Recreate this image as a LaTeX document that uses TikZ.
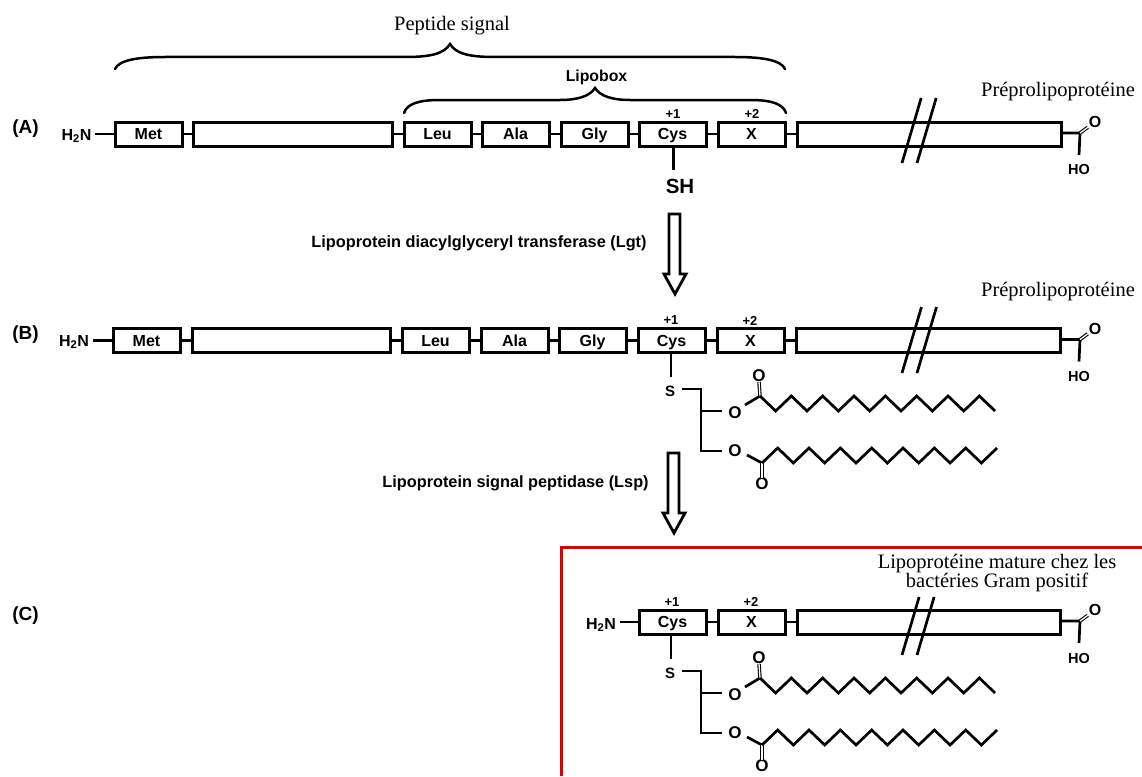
\documentclass[tikz,border=0pt]{standalone}
\usepackage{fontspec}
\setmainfont{Liberation Serif}
\setsansfont{Liberation Sans}
\newcommand{\sz}[1]{\fontsize{#1}{#1}\selectfont}
\newcommand{\pbox}[5]{\node[pbox,minimum width={(#3-#2)*1pt}] (#1) at ({(#2+#3)/2},#4) {#5};}
% carboxyl terminus and hash marks: #1 prefix, #2 last box, #3 y centre, #4 hash top y, #5 hash bottom y
\newcommand{\cterm}[5]{%
  \coordinate (#1j) at (1080,#3-1);
  \node[sans,outer sep=1pt,font=\sffamily\bfseries\sz{16}] (#1o) at (1095,#3-12) {O};
  \node[sans,font=\sffamily\bfseries\sz{14.5}] (#1ho) at (1079,#3+36) {HO};
  \coordinate (#1k) at (1079,#3+21);
  \draw[bond] (#2.east |- #1j) -- (#1j) -- (#1k);
  \draw[dbond] (#1j) -- (#1o);
  \coordinate (#1h1a) at (902,#5);
  \coordinate (#1h1b) at ({902+(#5-#4)*0.295},#4);
  \coordinate (#1h2a) at (917,#5);
  \coordinate (#1h2b) at ({917+(#5-#4)*0.295},#4);
  \draw[bond] (#1h1a) -- (#1h1b);
  \draw[bond] (#1h2a) -- (#1h2b);
}
% diacylglyceryl chains: #1 prefix, #2 Cys node, #3 dy relative to row B
\newcommand{\lipid}[3]{%
  \node[sans,font=\sffamily\bfseries\sz{15}] (#1s) at (670,391+#3) {S};
  \node[sans,font=\sffamily\bfseries\sz{17}] (#1ou) at (735,413+#3) {O};
  \node[sans,font=\sffamily\bfseries\sz{17}] (#1ol) at (735,451+#3) {O};
  \node[sans,font=\sffamily\bfseries\sz{17}] (#1cu) at (759,376+#3) {O};
  \node[sans,font=\sffamily\bfseries\sz{17}] (#1cl) at (762,484+#3) {O};
  \coordinate (#1st) at (671,377+#3);
  \coordinate (#1sr) at (682,389+#3);
  \coordinate (#1a) at (701,389+#3);
  \coordinate (#1b) at (701,411+#3);
  \coordinate (#1c) at (701,451+#3);
  \coordinate (#1be) at (722,411+#3);
  \coordinate (#1ce) at (722,451+#3);
  \coordinate (#1u0) at (745,405+#3);
  \coordinate (#1l0) at (747,455+#3);
  \coordinate (#1u) at (760,396+#3);
  \coordinate (#1l) at (762,463+#3);
  \draw[bond] (#2.south -| #1st) -- (#1st);
  \draw[bond] (#1sr) -- (#1a) -- (#1c) -- (#1ce);
  \draw[bond] (#1b) -- (#1be);
  \draw[bond] (#1u0) -- (#1u);
  \draw[dbond] (#1u) -- (#1cu.south);
  \draw[bond,line join=miter] (#1u) \foreach \i in {1,...,15} { -- ++(15.67,{mod(\i,2)==1 ? 15 : -15}) };
  \draw[bond] (#1l0) -- (#1l);
  \draw[dbond] (#1l) -- (#1cl.north);
  \draw[bond,line join=miter] (#1l) \foreach \i in {1,...,15} { -- ++(15.67,{mod(\i,2)==1 ? -15 : 15}) };
}
\tikzset{
  pbox/.style={draw=black,fill=white,line width=3pt,minimum height=24pt,inner sep=0pt,outer sep=0pt,
    text height=11.5pt,text depth=0pt,font=\sffamily\bfseries\sz{16}},
  bond/.style={draw=black,line width=2.7pt},
  dbond/.style={draw=black,double=white,double distance=1.3pt,line width=1.1pt},
  sans/.style={inner sep=0pt,outer sep=0pt,text=black},
  seriflab/.style={inner sep=0pt,outer sep=0pt,text=black,font=\rmfamily\sz{20.5}},
  boldlab/.style={sans,font=\sffamily\bfseries\sz{16.3}},
  smalllab/.style={sans,font=\sffamily\bfseries\sz{13}},
  nterm/.style={sans,outer sep=4pt,font=\sffamily\bfseries\sz{16}},
  rowlab/.style={sans,font=\sffamily\bfseries\sz{19}},
  brace/.style={draw=black,line width=2.5pt,line cap=round},
  bigarrow/.style={draw=black,fill=white,line width=2.8pt,line join=miter},
}
\begin{document}
\begin{tikzpicture}[x=1pt,y=-1pt]
\useasboundingbox (0,0) rectangle (1142,776);
% titles
\node[seriflab] (tpep) at (452,26) {Peptide signal};
\node[seriflab] (tpre1) at (1058,92) {Préprolipoprotéine};
\node[seriflab] (tpre2) at (1058,292) {Préprolipoprotéine};
\node[sans,font=\sffamily\bfseries\sz{15.8}] (tlipo) at (596.5,77) {Lipobox};
\node[rowlab] (la) at (25.5,129) {(A)};
\node[rowlab] (lb) at (25.5,335) {(B)};
\node[rowlab] (lc) at (25.5,616) {(C)};
% braces
\coordinate (b1l) at (115,69); \coordinate (b1t) at (450,44); \coordinate (b1r) at (785,69);
\draw[brace] (b1l) .. controls (119,60) and (138,57) .. (165,57) -- (405,57)
  .. controls (430,57) and (444,54) .. (b1t)
  .. controls (456,54) and (470,57) .. (495,57) -- (735,57)
  .. controls (762,57) and (781,60) .. (b1r);
\coordinate (b2l) at (404,113); \coordinate (b2t) at (595,88); \coordinate (b2r) at (786,113);
\draw[brace] (b2l) .. controls (407,104) and (418,100) .. (440,100) -- (560,100)
  .. controls (578,100) and (590,96) .. (b2t)
  .. controls (600,96) and (612,100) .. (630,100) -- (750,100)
  .. controls (772,100) and (783,104) .. (b2r);
% row A
\node[nterm] (anh) at (76.5,136) {H\textsubscript{2}N};
\pbox{aMet}{115}{182}{134}{Met}
\pbox{aL1}{193}{392}{134}{}
\pbox{aLeu}{404}{471}{134}{Leu}
\pbox{aAla}{482}{549}{134}{Ala}
\pbox{aGly}{561}{628}{134}{Gly}
\pbox{aCys}{639}{706}{134}{Cys}
\pbox{aX}{718}{785}{134}{X}
\pbox{aL2}{797}{1061}{134}{}
\draw[bond] (anh.east |- aMet.west) -- (aMet.west);
\draw[bond] (aMet) -- (aL1);
\draw[bond] (aL1) -- (aLeu);
\draw[bond] (aLeu) -- (aAla);
\draw[bond] (aAla) -- (aGly);
\draw[bond] (aGly) -- (aCys);
\draw[bond] (aCys) -- (aX);
\draw[bond] (aX) -- (aL2);
\node[smalllab] (ap1) at (673,114) {+1};
\node[smalllab] (ap2) at (752,114) {+2};
\cterm{a}{aL2}{134}{98}{163}
\node[sans,font=\sffamily\bfseries\sz{20.5}] (ash) at (680,186) {SH};
\coordinate (ashc) at (673.5,170);
\draw[bond] (aCys.south -| ashc) -- (ashc);
% arrow 1
\node[boldlab] (tlgt) at (479,243) {Lipoprotein diacylglyceryl transferase (Lgt)};
\draw[bigarrow] (669,214) -- (680,214) -- (680,274) -- (686,274) -- (675,294) -- (664,274) -- (669,274) -- cycle;
% row B
\node[nterm] (bnh) at (74,342) {H\textsubscript{2}N};
\pbox{bMet}{113}{180}{340.5}{Met}
\pbox{bL1}{192}{390}{340.5}{}
\pbox{bLeu}{402}{469}{340.5}{Leu}
\pbox{bAla}{481}{548}{340.5}{Ala}
\pbox{bGly}{559}{626}{340.5}{Gly}
\pbox{bCys}{638}{705}{340.5}{Cys}
\pbox{bX}{717}{784}{340.5}{X}
\pbox{bL2}{796}{1060}{340.5}{}
\draw[bond] (bnh.east |- bMet.west) -- (bMet.west);
\draw[bond] (bMet) -- (bL1);
\draw[bond] (bL1) -- (bLeu);
\draw[bond] (bLeu) -- (bAla);
\draw[bond] (bAla) -- (bGly);
\draw[bond] (bGly) -- (bCys);
\draw[bond] (bCys) -- (bX);
\draw[bond] (bX) -- (bL2);
\node[smalllab] (bp1) at (671,320.5) {+1};
\node[smalllab] (bp2) at (750,320.5) {+2};
\cterm{b}{bL2}{340.5}{307}{373}
\lipid{b}{bCys}{0}
% arrow 2
\node[boldlab] (tlsp) at (515.5,483) {Lipoprotein signal peptidase (Lsp)};
\draw[bigarrow] (668,453) -- (679,453) -- (679,513) -- (685,513) -- (674,533) -- (663,513) -- (668,513) -- cycle;
% frame
\coordinate (f1) at (561.5,776); \coordinate (f2) at (561.5,547); \coordinate (f3) at (1142,547);
\draw[draw=red!88!black,line width=3pt] (f1) -- (f2) -- (f3);
\node[seriflab,align=center,font=\rmfamily\fontsize{20.5}{18}\selectfont] (tmat) at (997,573) {Lipoprotéine mature chez les\\bactéries Gram positif};
% row C
\node[nterm] (cnh) at (601,625) {H\textsubscript{2}N};
\pbox{cCys}{639}{706}{622}{Cys}
\pbox{cX}{718}{785}{622}{X}
\pbox{cL2}{797}{1060}{622}{}
\draw[bond] (cnh.east |- cCys.west) -- (cCys.west);
\draw[bond] (cCys) -- (cX);
\draw[bond] (cX) -- (cL2);
\node[smalllab] (cp1) at (672,602) {+1};
\node[smalllab] (cp2) at (751,602) {+2};
\cterm{c}{cL2}{622}{597}{655}
\lipid{c}{cCys}{282}
\end{tikzpicture}
\end{document}
